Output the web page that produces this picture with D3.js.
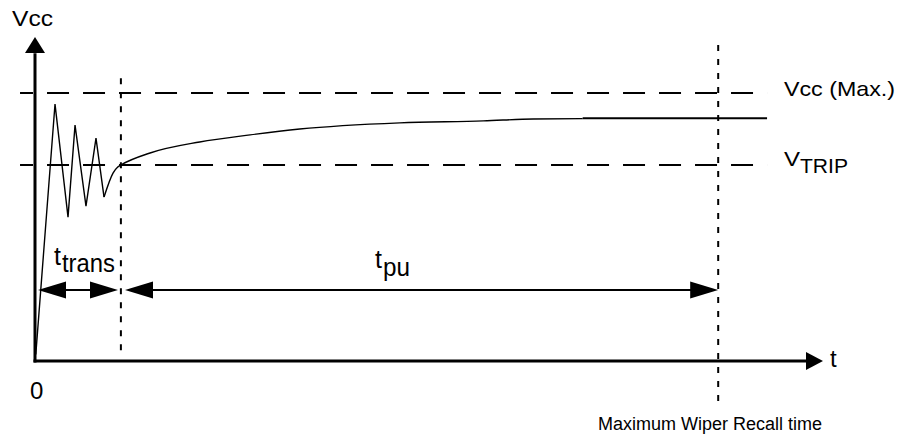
<!DOCTYPE html>
<html><head><meta charset="utf-8">
<script src="https://cdn.jsdelivr.net/npm/d3@7"></script>
<style>body{margin:0;background:#fff}svg{display:block}</style></head>
<body><svg id="c" width="898" height="436"></svg>
<script>
// ---- data (schematic units: time 0..100, voltage 0..100) ----
const rampTimes   = [0.1, 2.54, 4.19, 5.08, 6.47, 7.74, 8.76];
const rampValues  = [2.0, 79.3, 44.4, 72.8, 47.8, 68.8, 50.6];
const settleTimes = [8.76, 9.9, 10.5, 10.9, 14.6, 20.9, 27.3, 33.6, 46.3, 56.9, 63.2, 69.5];
const settleValues= [50.6, 58.0, 59.9, 60.5, 64.2, 67.6, 69.8, 71.6, 73.5, 74.1, 74.7, 74.8];
const steadyTimes = [69.5, 92.9];
const steadyValues= [74.9, 74.9];
const levelNames  = ["Vcc (Max.)", "VTRIP"];
const levelValues = [82.7, 60.5];
const levelSpan   = [-1.9, 92.9];
const markerNames = ["tTrans", "Maximum Wiper Recall time"];
const markerTimes = [10.9, 86.7];
const markerTop   = [87.3, 97.5];
const markerBottom= [0.9, -12.7];
const spanValue   = 21.9;
const transSpan   = [0.38, 10.53];
const puSpan      = [11.42, 86.7];

const svg = d3.select("#c");
const x = d3.scaleLinear().domain([0, 100]).range([35, 823]);
const y = d3.scaleLinear().domain([0, 100]).range([361, 37]);
const FONT = "'Liberation Sans', Arial, Helvetica, sans-serif";

// level dashed lines
levelValues.forEach(v => {
  svg.append("line")
    .attr("x1", x(levelSpan[0])).attr("x2", x(levelSpan[1]))
    .attr("y1", y(v)).attr("y2", y(v))
    .attr("stroke", "#000").attr("stroke-width", 2)
    .attr("stroke-dasharray", "22 14").attr("stroke-dashoffset", 9);
});

// vertical dotted markers
markerTimes.forEach((t, i) => {
  svg.append("line")
    .attr("x1", x(t)).attr("x2", x(t))
    .attr("y1", y(markerTop[i])).attr("y2", y(markerBottom[i]))
    .attr("stroke", "#000").attr("stroke-width", 2)
    .attr("stroke-dasharray", "6 8");
});

// waveform
const pts = (ts, vs) => ts.map((t, i) => [x(t), y(vs[i])]);
svg.append("path").attr("d", d3.line()(pts(rampTimes, rampValues)))
  .attr("fill", "none").attr("stroke", "#000").attr("stroke-width", 1.4).attr("stroke-linejoin", "miter");
svg.append("path").attr("d", d3.line().curve(d3.curveMonotoneX)(pts(settleTimes, settleValues)))
  .attr("fill", "none").attr("stroke", "#000").attr("stroke-width", 1.4);
svg.append("path").attr("d", d3.line()(pts(steadyTimes, steadyValues)))
  .attr("fill", "none").attr("stroke", "#000").attr("stroke-width", 2);

// axes
svg.append("line").attr("x1", x(0)).attr("x2", x(0)).attr("y1", y(0)+1.5).attr("y2", y(95))
  .attr("stroke", "#000").attr("stroke-width", 3);
svg.append("line").attr("x1", x(0)-1.5).attr("x2", x(98)).attr("y1", y(0)).attr("y2", y(0))
  .attr("stroke", "#000").attr("stroke-width", 3);

function head(tipX, tipY, dx, dy, len, half) {
  const bx = tipX - dx*len, by = tipY - dy*len;
  const px = -dy*half, py = dx*half;
  svg.append("path")
    .attr("d", `M${tipX},${tipY}L${bx+px},${by+py}L${bx-px},${by-py}Z`)
    .attr("fill", "#000");
}
head(x(0), y(100), 0, -1, 16, 10);
head(x(100), y(0), 1, 0, 17, 9);

// span arrows
[transSpan, puSpan].forEach(s => {
  const x1 = x(s[0]), x2 = x(s[1]), yy = y(spanValue);
  svg.append("line").attr("x1", x1+10).attr("x2", x2-10).attr("y1", yy).attr("y2", yy)
    .attr("stroke", "#000").attr("stroke-width", 2);
  head(x1, yy, -1, 0, 28, 8.5);
  head(x2, yy, 1, 0, 28, 8.5);
});

// text
function txt(s, px, py, size, len) {
  const t = svg.append("text").attr("x", px).attr("y", py).text(s)
    .attr("font-family", FONT).attr("font-size", size).attr("fill", "#000");
  if (len) t.attr("textLength", len).attr("lengthAdjust", "spacingAndGlyphs");
  return t;
}
txt("Vcc", 12, 26, 22, 41);
txt(levelNames[0], 784, 96, 21, 111);
txt("V", 784, 166, 21, 16);
txt("TRIP", 800, 173, 20, 48);
txt("t", 830, 367, 24);
txt("0", 30, 399, 24);
txt("t", 54, 265, 25);
txt("trans", 62, 272, 25, 53);
txt("t", 375, 268, 25);
txt("pu", 383, 276, 25, 27);
txt(markerNames[1], 598, 430, 18, 224);
</script></body></html>
